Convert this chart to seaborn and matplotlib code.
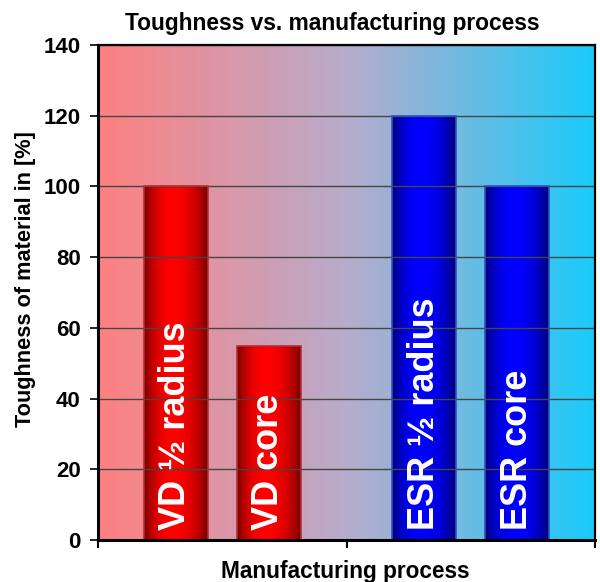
import numpy as np
import pandas as pd
import seaborn as sns
import matplotlib.pyplot as plt
from matplotlib.colors import LinearSegmentedColormap

# Data
process = ["VD", "VD", "ESR", "ESR"]
position = ["\u00bd radius", "core", "\u00bd radius", "core"]
toughness = [100, 55, 120, 100]
bar_labels = {("VD", "\u00bd radius"): "VD \u00bd radius", ("VD", "core"): "VD core",
              ("ESR", "\u00bd radius"): "ESR \u00bd radius", ("ESR", "core"): "ESR core"}
process_order = ["VD", "ESR"]
position_order = ["\u00bd radius", "core"]
yticks = [0, 20, 40, 60, 80, 100, 120, 140]

df = pd.DataFrame({"Process": process, "Position": position, "Toughness": toughness})

sns.set_style("white")
plt.rcParams['font.family'] = ['Liberation Sans', 'DejaVu Sans']
plt.rcParams['font.weight'] = 'bold'
plt.rcParams['text.color'] = 'black'
plt.rcParams['axes.labelcolor'] = 'black'
plt.rcParams['xtick.color'] = 'black'
plt.rcParams['ytick.color'] = 'black'

fig = plt.figure(figsize=(6, 5.82), dpi=100)
ax = fig.add_axes([98 / 600, 42 / 582, 497 / 600, 495 / 582])

sns.barplot(data=df, x="Process", y="Toughness", hue="Position",
            order=process_order, hue_order=position_order,
            width=0.747, gap=0.312, legend=False, ax=ax,
            palette=["#ff0000", "#ff0000"], saturation=1)

ax.set_xlim(-0.5, 1.5)
ax.set_ylim(0, 140)

# background gradient, pink on the left to cyan on the right
bg_cmap = LinearSegmentedColormap.from_list(
    "bg", [(0.0, "#ff8080"), (0.5, "#b8accc"), (1.0, "#1acbfa")])
ax.imshow(np.linspace(0, 1, 256).reshape(1, -1), cmap=bg_cmap, aspect="auto",
          extent=[0, 1, 0, 1], transform=ax.transAxes, zorder=0)

# cylinder style shading for each bar
t = np.linspace(0, 1, 200)
s = np.where(t < 0.45, t / 0.45 * 0.5, 0.5 + (t - 0.45) / 0.55 * 0.5)
shade = 0.42 + 0.58 * np.sin(np.pi * s) ** 0.7
red_cmap = LinearSegmentedColormap.from_list("red", ["#000000", "#ff0000"])
blue_cmap = LinearSegmentedColormap.from_list("blue", ["#000000", "#0000ff"])

for cont, pos in zip(ax.containers, position_order):
    for bar, proc in zip(cont, process_order):
        x0 = bar.get_x()
        w = bar.get_width()
        h = bar.get_height()
        cmap = red_cmap if proc == "VD" else blue_cmap
        bar.set_facecolor("none")
        bar.set_edgecolor("#b03030" if proc == "VD" else "#3050c0")
        bar.set_linewidth(1.2)
        bar.set_zorder(3)
        im = ax.imshow(shade.reshape(1, -1), cmap=cmap, vmin=0, vmax=1,
                       aspect="auto", extent=[x0, x0 + w, 0, h], zorder=2)
        im.set_clip_path(bar)
        ax.text(x0 + w / 2, 2.8, bar_labels[(proc, pos)], rotation=90,
                ha="center", va="bottom", color="white", fontsize=26,
                fontweight="bold", zorder=4)

ax.set_xlim(-0.5, 1.5)
ax.set_ylim(0, 140)

ax.set_yticks(yticks)
ax.set_xticks([-0.5, 0.5, 1.5])
ax.set_xticklabels([])
ax.yaxis.grid(True, color="#454545", linewidth=1.0)
ax.set_axisbelow(False)
for line in ax.get_ygridlines():
    line.set_zorder(1)

ax.tick_params(axis="y", direction="out", length=5.5, width=1.2, labelsize=16,
               left=True, pad=7)
ax.tick_params(axis="x", direction="out", length=6, width=1.5, bottom=True)
for lab in ax.get_yticklabels():
    lab.set_fontweight("bold")

for side in ["left", "bottom"]:
    ax.spines[side].set_linewidth(2.2)
for side in ["top", "right"]:
    ax.spines[side].set_linewidth(1.6)
for sp in ax.spines.values():
    sp.set_color("black")
    sp.set_visible(True)
    sp.set_zorder(5)

ax.set_xlabel("Manufacturing process", fontsize=16.3, fontweight="bold")
ax.xaxis.set_label_coords((345 - 98) / 497, (582 - 560 - 42) / 495)
ax.set_ylabel("Toughness of material in [%]", fontsize=15.7, fontweight="bold")
ax.yaxis.set_label_coords((36 - 98) / 497, (582 - 279 - 42) / 495)
fig.text(332 / 600, 1 - 23.5 / 582, "Toughness vs. manufacturing process",
         ha="center", va="center", fontsize=16.4, fontweight="bold")

fig.savefig("out.png", dpi=100)
